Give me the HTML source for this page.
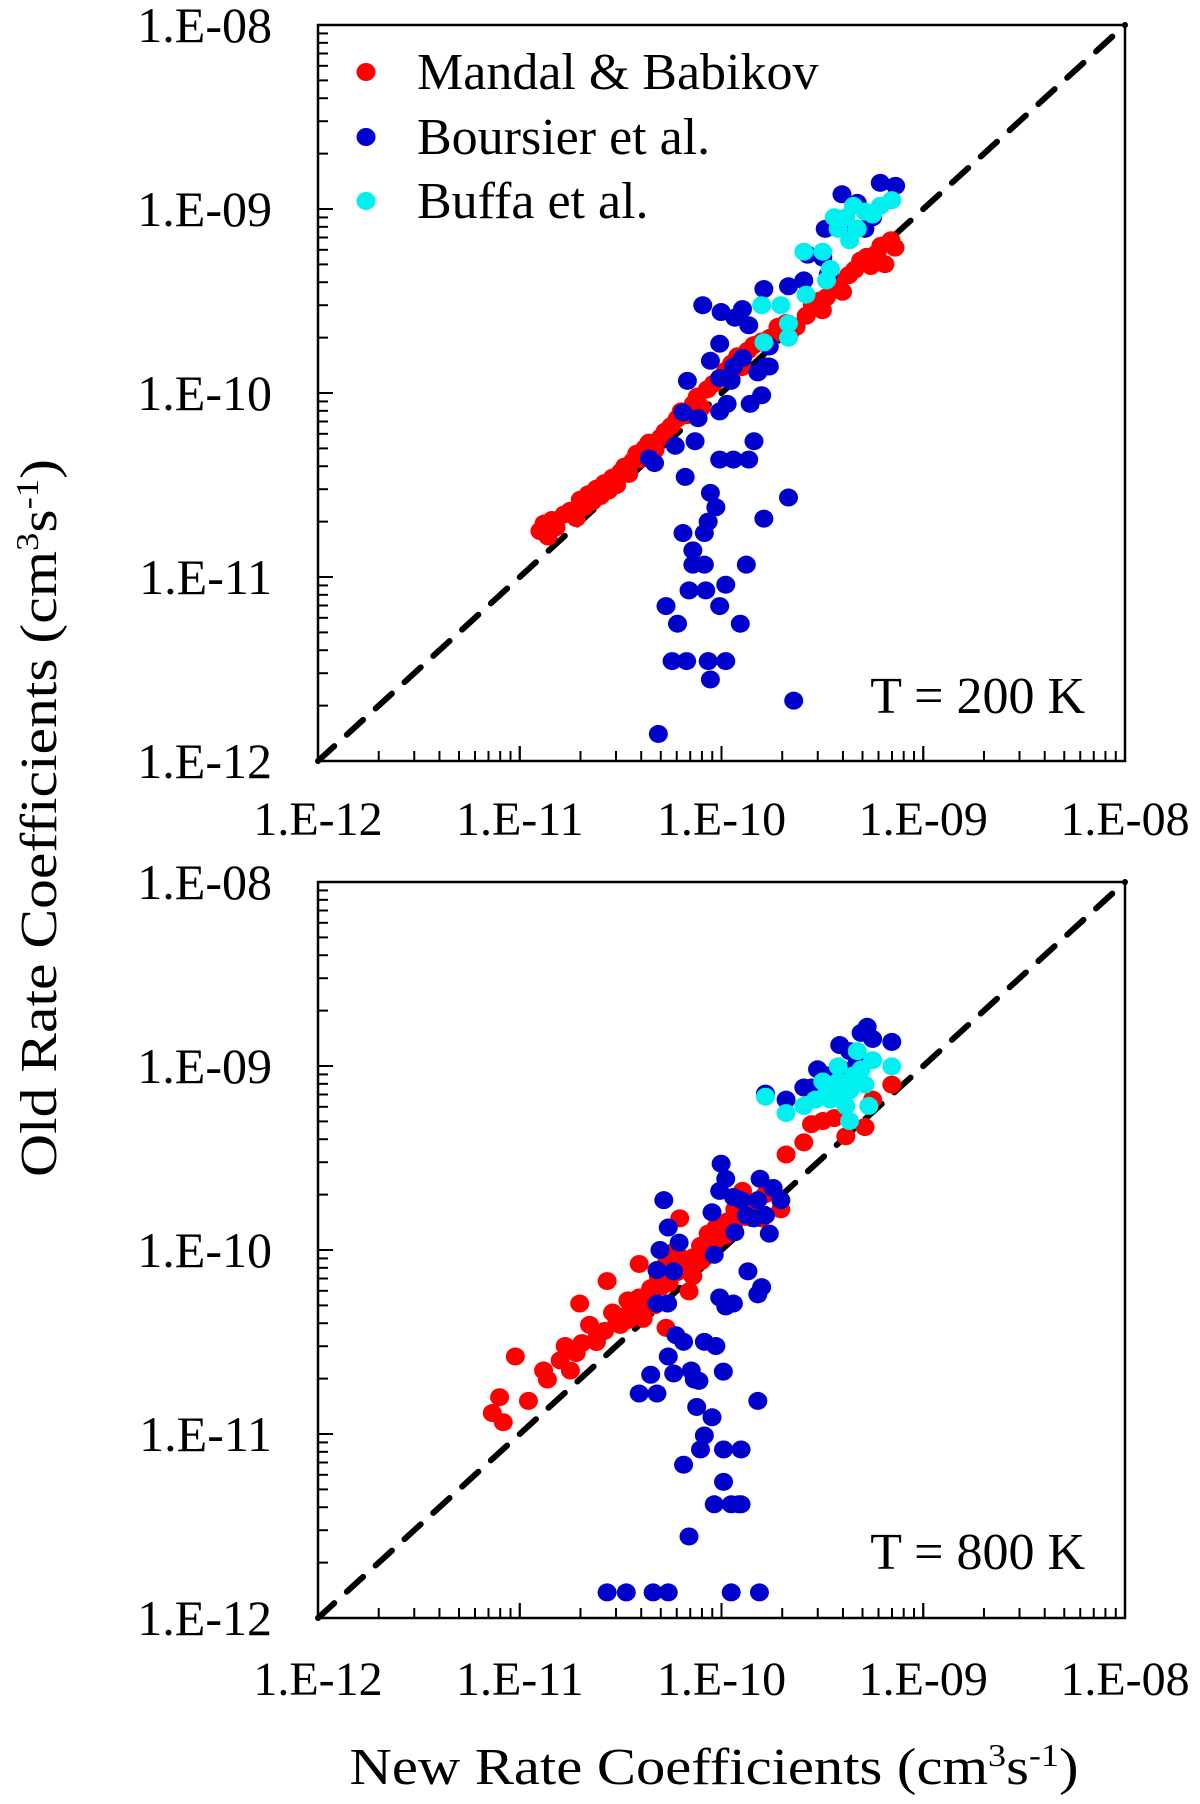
<!DOCTYPE html>
<html><head><meta charset="utf-8"><style>
html,body{margin:0;padding:0;background:#fff;}
svg{display:block;}
text{font-family:"Liberation Serif",serif;fill:#000;}
</style></head><body>
<svg id="chart" width="1200" height="1804" viewBox="0 0 1200 1804" xmlns="http://www.w3.org/2000/svg">
<text transform="translate(56,818) rotate(-90)" text-anchor="middle" font-size="52" textLength="718" lengthAdjust="spacingAndGlyphs">Old Rate Coefficients (cm<tspan font-size="32" dy="-18">3</tspan><tspan dy="18">s</tspan><tspan font-size="32" dy="-18">-1</tspan><tspan dy="18">)</tspan></text>
<text x="714" y="1784" text-anchor="middle" font-size="52" textLength="729" lengthAdjust="spacingAndGlyphs">New Rate Coefficients (cm<tspan font-size="32" dy="-18">3</tspan><tspan dy="18">s</tspan><tspan font-size="32" dy="-18">-1</tspan><tspan dy="18">)</tspan></text>
</svg>
<script>
// ---- data (log10 of rate coefficients, cm^3 s^-1) ----
const tickExponents = [-12, -11, -10, -9, -8];
const tickLabels = ["1.E-12", "1.E-11", "1.E-10", "1.E-09", "1.E-08"];
const seriesNames = ["Mandal & Babikov", "Boursier et al.", "Buffa et al."];
const panelLabels = ["T = 200 K", "T = 800 K"];

const mandal200New = [-10.90,-10.88,-10.86,-10.84,-10.82,-10.78,-10.75,-10.72,-10.70,-10.68,-10.66,-10.64,-10.62,-10.60,-10.58,-10.56,-10.54,-10.52,-10.50,-10.48,-10.46,-10.44,-10.42,-10.40,-10.38,-10.36,-10.33,-10.30,-10.28,-10.25,-10.22,-10.20,-10.17,-10.14,-10.12,-10.10,-10.07,-10.04,-10.01,-9.98,-9.95,-9.92,-9.90,-9.87,-9.84,-9.80,-9.76,-9.72,-9.68,-9.66,-9.63,-9.58,-9.55,-9.52,-9.50,-9.48,-9.45,-9.42,-9.40,-9.37,-9.34,-9.31,-9.28,-9.26,-9.23,-9.21,-9.19,-9.16,-9.14];
const mandal200Old = [-10.75,-10.71,-10.78,-10.69,-10.73,-10.66,-10.64,-10.68,-10.58,-10.62,-10.55,-10.59,-10.52,-10.56,-10.49,-10.53,-10.46,-10.50,-10.43,-10.40,-10.44,-10.37,-10.33,-10.36,-10.30,-10.27,-10.31,-10.24,-10.21,-10.18,-10.14,-10.10,-10.12,-10.06,-10.02,-10.08,-9.98,-9.95,-9.92,-9.88,-9.84,-9.80,-9.86,-9.77,-9.74,-9.72,-9.70,-9.64,-9.62,-9.67,-9.64,-9.58,-9.52,-9.50,-9.55,-9.48,-9.44,-9.40,-9.45,-9.36,-9.33,-9.28,-9.26,-9.31,-9.24,-9.20,-9.30,-9.17,-9.21];

const boursier200New = [-10.313,-9.642,-10.055,-10.245,-10.173,-10.066,-9.979,-10.275,-10.218,-10.009,-9.907,-9.979,-9.877,-10.161,-10.078,-10.142,-10.085,-10.191,-10.085,-10.142,-10.066,-10.055,-10.028,-9.790,-9.668,-10.180,-10.229,-10.332,-10.358,-10.131,-10.009,-9.941,-9.865,-9.839,-10.191,-10.116,-10.009,-9.972,-9.858,-9.801,-10.169,-10.009,-9.953,-10.055,-10.009,-9.941,-9.896,-9.820,-9.763,-10.093,-10.002,-9.934,-9.896,-9.865,-9.790,-9.668,-9.592,-9.573,-9.486,-9.498,-9.471,-9.403,-9.384,-9.327,-9.213,-9.137,-9.251,-9.289,-9.782,-9.763];
const boursier200Old = [-11.853,-11.672,-11.557,-11.457,-11.457,-11.457,-11.457,-11.158,-11.254,-11.158,-11.254,-11.042,-10.933,-11.073,-11.073,-10.933,-10.933,-10.761,-10.761,-10.855,-10.699,-10.543,-10.621,-10.683,-10.568,-10.456,-10.287,-10.381,-10.356,-10.262,-10.362,-10.362,-10.362,-10.262,-10.106,-10.137,-10.100,-10.059,-10.059,-10.012,-9.934,-9.919,-9.934,-9.825,-9.732,-9.856,-9.810,-9.888,-9.856,-9.523,-9.560,-9.591,-9.544,-9.632,-9.435,-9.420,-9.388,-9.248,-9.108,-9.264,-9.357,-8.920,-9.076,-8.967,-8.858,-8.874,-9.045,-9.108,-9.856,-9.747];

const buffa200New = [-9.592,-9.498,-9.460,-9.479,-9.581,-9.801,-9.706,-9.668,-9.668,-9.790,-9.422,-9.384,-9.346,-9.289,-9.213,-9.156,-9.327,-9.365,-9.441,-9.251];
const buffa200Old = [-9.232,-9.232,-9.326,-9.388,-9.466,-9.523,-9.523,-9.622,-9.700,-9.725,-9.108,-9.045,-8.983,-9.014,-8.983,-8.952,-9.108,-9.170,-9.045,-9.030];

const mandal800New = [-11.136,-11.082,-11.022,-10.957,-10.882,-10.863,-10.775,-10.749,-10.703,-10.654,-10.567,-10.540,-10.502,-10.464,-10.408,-10.389,-10.351,-10.313,-10.275,-10.237,-10.199,-10.161,-10.142,-10.104,-10.066,-10.028,-9.972,-9.934,-9.896,-9.839,-9.801,-9.782,-9.706,-9.680,-9.592,-9.554,-9.498,-9.441,-9.384,-9.289,-9.251,-9.156,-10.275,-10.207,-10.408,-10.616,-10.692,-11.10,-10.80,-10.72,-10.62,-10.58,-10.52,-10.48,-10.44,-10.40,-10.36,-10.33,-10.30,-10.26,-10.22,-10.18,-10.14,-10.10,-10.06,-10.02,-9.98,-9.94,-9.88,-9.84,-10.46,-10.42,-10.38,-10.34];
const mandal800Old = [-10.886,-10.936,-10.579,-10.820,-10.655,-10.704,-10.522,-10.655,-10.291,-10.407,-10.169,-10.340,-10.407,-10.274,-10.076,-10.374,-10.208,-10.142,-10.076,-10.010,-10.043,-10.225,-10.142,-9.977,-9.911,-9.878,-9.845,-9.779,-9.679,-9.779,-9.828,-9.696,-9.779,-9.481,-9.415,-9.316,-9.299,-9.283,-9.382,-9.332,-9.183,-9.101,-10.423,-9.828,-10.258,-10.473,-10.506,-10.80,-10.60,-10.56,-10.50,-10.44,-10.40,-10.36,-10.34,-10.28,-10.24,-10.30,-10.20,-10.18,-10.12,-10.10,-10.04,-10.06,-9.98,-9.94,-9.92,-9.86,-9.82,-9.76,-10.38,-10.32,-10.30,-10.22];

const boursier800New = [-10.567,-10.472,-10.339,-10.264,-9.952,-9.812,-10.161,-10.036,-9.952,-9.915,-9.903,-9.990,-10.188,-10.104,-9.990,-9.903,-10.085,-10.047,-10.123,-9.820,-10.408,-10.320,-10.112,-9.991,-10.237,-10.150,-10.135,-10.351,-10.188,-10.264,-10.085,-10.028,-10.226,-10.320,-10.267,-10.009,-9.979,-9.941,-9.820,-9.801,-9.869,-10.320,-10.237,-10.264,-10.210,-10.305,-10.036,-10.286,-10.047,-10.009,-10.002,-9.979,-9.941,-9.903,-9.877,-9.934,-9.820,-9.809,-9.763,-9.706,-9.744,-9.782,-9.839,-9.782,-9.680,-9.592,-9.524,-9.460,-9.414,-9.365,-9.308,-9.278,-9.251,-9.156,-9.327,-9.403,-9.479,-9.554];
const boursier800Old = [-11.861,-11.861,-11.861,-11.861,-11.861,-11.861,-11.557,-11.382,-11.382,-11.382,-11.382,-11.260,-11.167,-11.084,-11.084,-11.084,-11.008,-10.909,-10.853,-10.820,-10.780,-10.780,-10.711,-10.661,-10.671,-10.655,-10.704,-10.678,-10.499,-10.579,-10.499,-10.522,-10.463,-10.291,-10.291,-10.258,-10.307,-10.291,-10.241,-10.202,-10.116,-10.109,-10.116,-9.878,-9.960,-10.000,-10.026,-9.729,-9.795,-9.679,-9.531,-9.613,-9.712,-9.729,-9.812,-9.904,-9.729,-9.613,-9.911,-9.729,-9.663,-9.812,-9.828,-9.150,-9.183,-9.117,-9.018,-9.051,-8.886,-8.919,-8.820,-8.787,-8.853,-8.869,-8.969,-9.018,-9.051,-9.117];

const buffa800New = [-9.782,-9.680,-9.592,-9.535,-9.498,-9.460,-9.422,-9.384,-9.365,-9.327,-9.308,-9.289,-9.251,-9.270,-9.365,-9.156,-9.479,-9.403,-9.422,-9.346];
const buffa800Old = [-9.167,-9.256,-9.217,-9.183,-9.084,-9.183,-9.002,-9.217,-9.134,-8.919,-9.018,-9.101,-8.969,-9.217,-9.299,-9.002,-9.150,-9.150,-9.084,-9.051];

// ---- layout ----
const NS = "http://www.w3.org/2000/svg";
const svg = document.getElementById("chart");
const X0 = 318, X1 = 1125;
const panels = [
  {top: 25, bottom: 761, label: panelLabels[0], labelY: 713, xLabelY: 835,
   series: [[mandal200New, mandal200Old, "#ff0000"], [boursier200New, boursier200Old, "#0000cc"], [buffa200New, buffa200Old, "#00f0f0"]], legend: true, name: "200k"},
  {top: 882, bottom: 1618, label: panelLabels[1], labelY: 1569, xLabelY: 1695,
   series: [[mandal800New, mandal800Old, "#ff0000"], [boursier800New, boursier800Old, "#0000cc"], [buffa800New, buffa800Old, "#00f0f0"]], legend: false, name: "800k"}
];
function mk(tag, attrs, parent) {
  const e = document.createElementNS(NS, tag);
  for (const k in attrs) e.setAttribute(k, attrs[k]);
  (parent || svg).appendChild(e);
  return e;
}
const seriesKeys = ["mandal-babikov", "boursier", "buffa"];
panels.forEach(p => {
  const g = mk("g", {});
  
  
  const xs = v => X0 + (v - tickExponents[0]) / (tickExponents[4] - tickExponents[0]) * (X1 - X0);
  const ys = v => p.bottom - (v - tickExponents[0]) / (tickExponents[4] - tickExponents[0]) * (p.bottom - p.top);
  const fr = mk("rect", {x: X0, y: p.top, width: X1 - X0, height: p.bottom - p.top, fill: "none", stroke: "#000", "stroke-width": 2.5}, g);
  
  
  for (let d = 0; d < 4; d++) {
    for (let m = 1; m <= 10; m++) {
      const v = tickExponents[d] + Math.log10(m);
      const len = (m === 1 || m === 10) ? 15 : 10;
      const tx = mk("line", {x1: xs(v), x2: xs(v), y1: p.bottom, y2: p.bottom - len, stroke: "#000", "stroke-width": 2}, g);
      
      
      const ty = mk("line", {x1: X0, x2: X0 + len, y1: ys(v), y2: ys(v), stroke: "#000", "stroke-width": 2}, g);
      
      
    }
  }
  tickExponents.forEach((v, i) => {
    const tl = mk("text", {x: 272, y: ys(v) + 17, "text-anchor": "end", "font-size": 50}, g);
    tl.textContent = tickLabels[i];
    
    
    const xl = mk("text", {x: xs(v), y: p.xLabelY, "text-anchor": "middle", "font-size": 48}, g);
    xl.textContent = tickLabels[i];
    
    
  });
  const dl = mk("line", {x1: xs(tickExponents[0]), y1: ys(tickExponents[0]), x2: xs(tickExponents[4]), y2: ys(tickExponents[4]), stroke: "#000", "stroke-width": 6, "stroke-dasharray": "22 17", "stroke-linecap": "round"}, g);
  
  
  p.series.forEach((s, si) => {
    const sg = mk("g", {fill: s[2]}, g);
    
    
    s[0].forEach((xv, i) => {
      const c = mk("ellipse", {cx: xs(xv), cy: ys(s[1][i]), rx: 9.5, ry: 9}, sg);
      
      
    });
  });
  const pl = mk("text", {x: 1085, y: p.labelY, "text-anchor": "end", "font-size": 52}, g);
  pl.textContent = p.label;
  
  
  if (p.legend) {
    const ly = [72, 137, 201];
    const colors = ["#ff0000", "#0000cc", "#00f0f0"];
    seriesNames.forEach((n, i) => {
      const lg = mk("g", {}, g);
      
      
      const c = mk("ellipse", {cx: 366, cy: ly[i], rx: 9.5, ry: 9, fill: colors[i]}, lg);
      
      
      const t = mk("text", {x: 417, y: ly[i] + 17, "font-size": 52}, lg);
      t.textContent = n;
      
      
    });
  }
});
</script>
</body></html>
